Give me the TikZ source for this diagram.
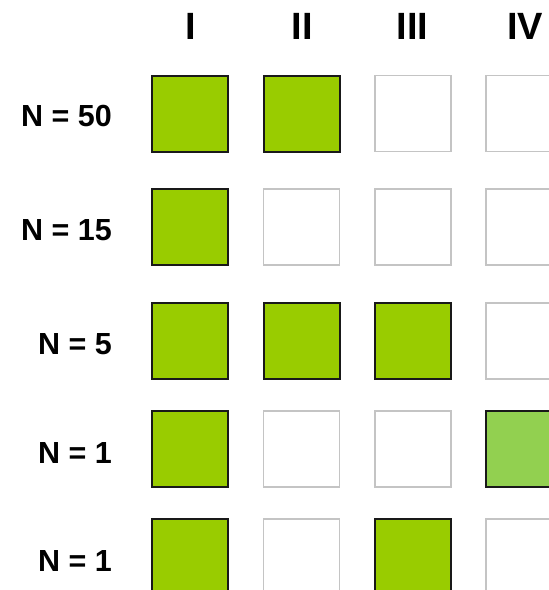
\documentclass[tikz,border=0pt]{standalone}
\usepackage{fontspec}
\setmainfont{Liberation Sans}
\definecolor{fillgreen}{RGB}{153,204,0}
\definecolor{lightgreen}{RGB}{146,208,80}
\definecolor{emptygray}{RGB}{196,196,196}
\begin{document}
\begin{tikzpicture}[x=1pt,y=-1pt,
  cell/.style={rectangle,minimum size=76pt,inner sep=0pt,line width=1.7pt},
  on/.style={cell,draw=black!90,fill=fillgreen,line width=2pt},
  onlight/.style={cell,draw=black!90,fill=lightgreen,line width=2pt},
  off/.style={cell,draw=emptygray,fill=white},
  head/.style={font=\fontsize{38}{40}\selectfont\bfseries,anchor=base,inner sep=0pt},
  rowlab/.style={font=\fontsize{30.5}{32}\selectfont\bfseries,anchor=base east,inner sep=0pt}]
\useasboundingbox (0,0) rectangle (549,590);
\clip (0,0) rectangle (549,590);
% headers
\node[head] (h1) at (190.5,39) {I};
\node[head] (h2) at (302,39) {II};
\node[head] (h3) at (412.5,39) {III};
\node[head] (h4) at (525,39) {IV};
% row labels
\node[rowlab] (l1) at (112,126.5) {N = 50};
\node[rowlab] (l2) at (112,240) {N = 15};
\node[rowlab] (l3) at (112,354.5) {N = 5};
\node[rowlab] (l4) at (112,463) {N = 1};
\node[rowlab] (l5) at (112,571) {N = 1};
% row 1
\node[on]  (c11) at (190.3,113.5) {};
\node[on]  (c12) at (301.6,113.5) {};
\node[off] (c13) at (412.9,113.5) {};
\node[off] (c14) at (524.2,113.5) {};
% row 2
\node[on]  (c21) at (190.3,226.8) {};
\node[off] (c22) at (301.6,226.8) {};
\node[off] (c23) at (412.9,226.8) {};
\node[off] (c24) at (524.2,226.8) {};
% row 3
\node[on]  (c31) at (190.3,340.8) {};
\node[on]  (c32) at (301.6,340.8) {};
\node[on]  (c33) at (412.9,340.8) {};
\node[off] (c34) at (524.2,340.8) {};
% row 4
\node[on]  (c41) at (190.3,449.2) {};
\node[off] (c42) at (301.6,449.2) {};
\node[off] (c43) at (412.9,449.2) {};
\node[onlight] (c44) at (524.2,449.2) {};
% row 5
\node[on]  (c51) at (190.3,557.2) {};
\node[off] (c52) at (301.6,557.2) {};
\node[on]  (c53) at (412.9,557.2) {};
\node[off] (c54) at (524.2,557.2) {};
\end{tikzpicture}
\end{document}
